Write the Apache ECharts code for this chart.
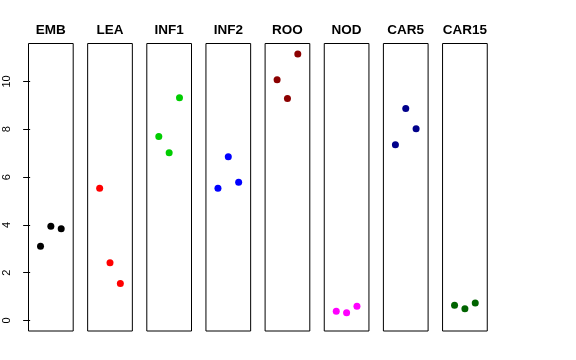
<!DOCTYPE html>
<html><head><meta charset="utf-8">
<script src="https://cdn.jsdelivr.net/npm/echarts@6/dist/echarts.min.js"></script>
<style>html,body{margin:0;padding:0;background:#fff}#c{width:576px;height:360px}</style>
</head><body><div id="c"></div>
<script>
const groups = ["EMB","LEA","INF1","INF2","ROO","NOD","CAR5","CAR15"];
const positions = [1, 2, 3];
const EMB = [3.11, 3.94, 3.84];
const LEA = [5.53, 2.42, 1.55];
const INF1 = [7.70, 7.02, 9.32];
const INF2 = [5.53, 6.85, 5.78];
const ROO = [10.07, 9.29, 11.15];
const NOD = [0.39, 0.32, 0.60];
const CAR5 = [7.35, 8.87, 8.02];
const CAR15 = [0.64, 0.49, 0.73];
const yTicks = [0, 2, 4, 6, 8, 10];
const colors = ["#000000","#FF0000","#00CD00","#0000FF","#8B0000","#FF00FF","#00008B","#006400"];

const values = [EMB, LEA, INF1, INF2, ROO, NOD, CAR5, CAR15];
const L0 = 28.5, P = 59.15, W = 44.7, TOP = 43.5, H = 287.5;
const grid = [], xAxis = [], yAxis = [], series = [], graphic = [];
values.forEach((v, i) => {
  const left = L0 + i * P;
  grid.push({left: left, top: TOP, width: W, height: H, show: true, borderColor: '#000', borderWidth: 1, backgroundColor: 'transparent'});
  xAxis.push({gridIndex: i, type: 'value', min: -0.16, max: 4.16, show: false});
  yAxis.push({gridIndex: i, type: 'value', min: -0.44, max: 11.59, show: i === 0,
    splitLine: {show: false},
    axisLine: {show: false},
    axisTick: {show: i === 0, length: 7, lineStyle: {color: '#000'}, customValues: yTicks},
    axisLabel: {show: i === 0, rotate: 90, margin: 16, color: '#000', fontSize: 11, fontFamily: 'Liberation Sans', customValues: yTicks}
  });
  series.push({type: 'scatter', xAxisIndex: i, yAxisIndex: i, symbol: 'circle', symbolSize: 7,
    itemStyle: {color: colors[i], opacity: 1}, data: positions.map((p, k) => [p, v[k]]), silent: true});
  graphic.push({type: 'text', x: left + W / 2, y: 30, silent: true,
    style: {text: groups[i], align: 'center', verticalAlign: 'middle', fill: '#000',
      font: 'bold 13.5px "Liberation Sans"'}});
});
const chart = echarts.init(document.getElementById('c'), null, {renderer: 'canvas'});
chart.setOption({animation: false, backgroundColor: '#fff', grid, xAxis, yAxis, series, graphic});
</script></body></html>
